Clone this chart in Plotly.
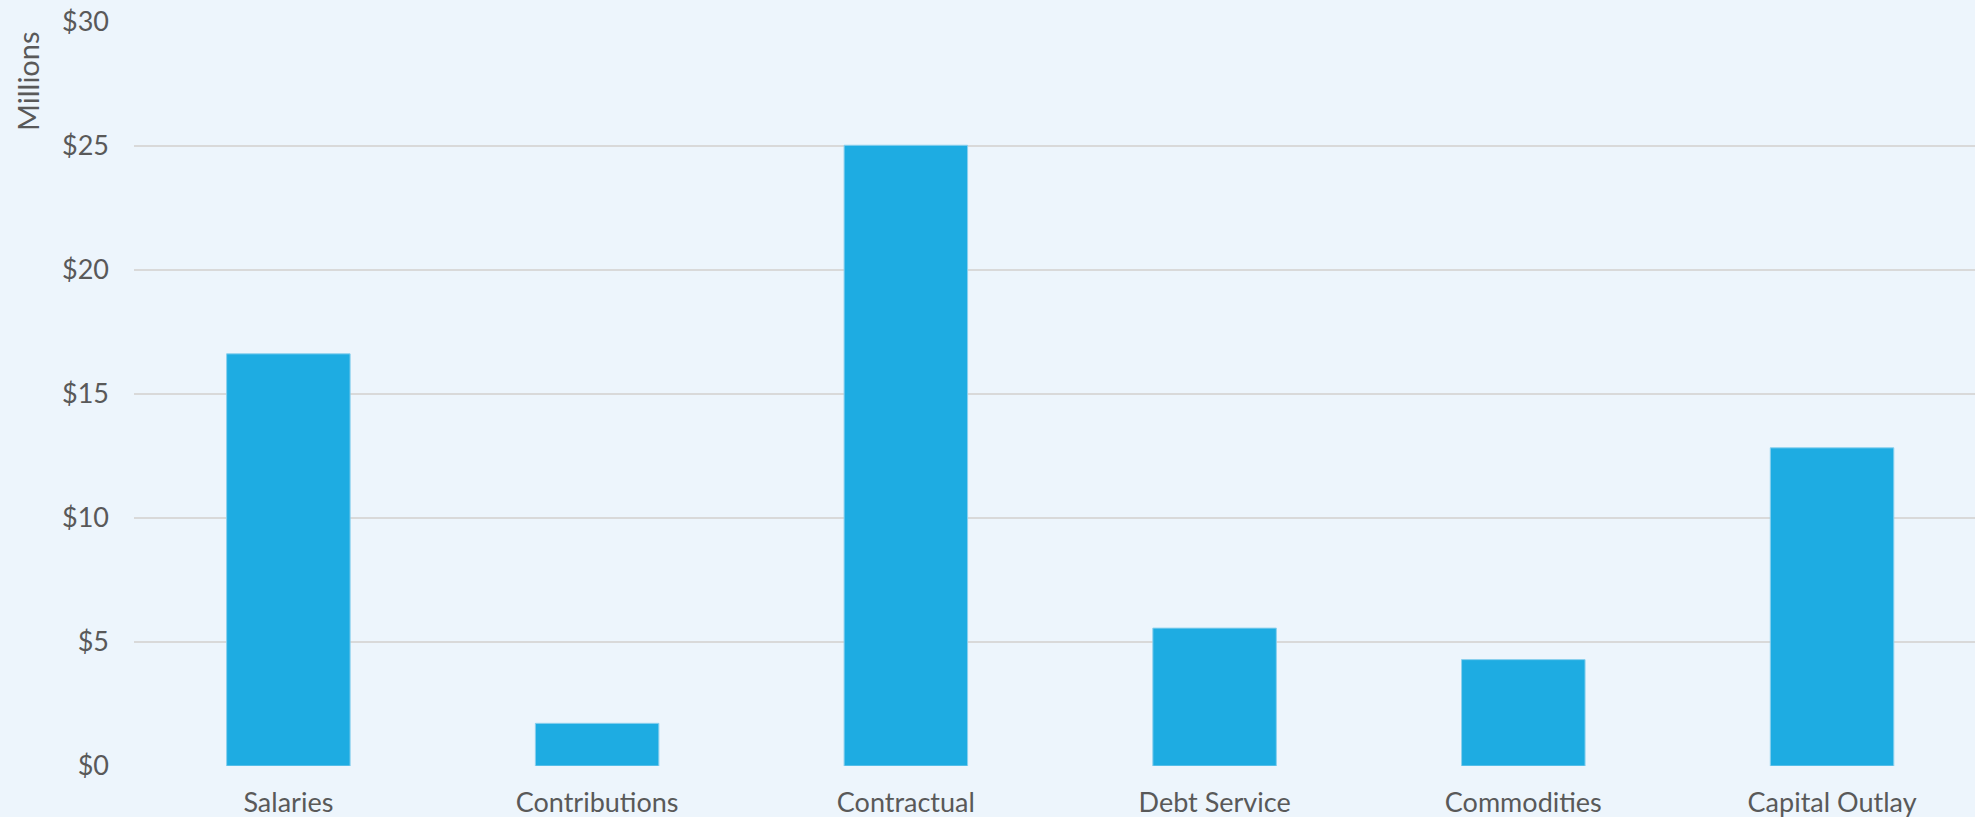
import plotly.graph_objects as go

categories = ["Salaries", "Contributions", "Contractual", "Debt Service", "Commodities", "Capital Outlay"]
values = [16.62, 1.72, 25.03, 5.56, 4.29, 12.83]
tick_vals = [0, 5, 10, 15, 20, 25, 30]
tick_text = ["$0", "$5", "$10", "$15", "$20", "$25", "$30"]

FONT = "Lato"
TXT = "#595959"
BG = "#EDF5FC"

fig = go.Figure()
fig.add_trace(go.Bar(
    x=categories, y=values,
    marker=dict(color="#1EACE2", line=dict(color="#8BD0EE", width=1)),
    width=0.4,
    hoverinfo="x+y",
))

fig.update_layout(
    width=1975, height=817,
    margin=dict(l=134, r=0, t=22, b=51),
    paper_bgcolor=BG, plot_bgcolor=BG,
    showlegend=False,
    font=dict(family=FONT, color=TXT, size=26),
    xaxis=dict(
        range=[-0.5, 5.463],
        showgrid=False, zeroline=False, showline=False,
        ticks="", tickfont=dict(size=27, color=TXT, family=FONT),
        ticklabelstandoff=18,
    ),
    yaxis=dict(
        range=[0, 30],
        tickvals=tick_vals, ticktext=tick_text,
        showgrid=True, gridcolor="#D9D9D9", gridwidth=2,
        zeroline=False, showline=False, ticks="",
        tickfont=dict(size=27, color=TXT, family=FONT),
        ticklabelstandoff=24,
    ),
    annotations=[dict(
        text="Millions", xref="paper", yref="paper",
        x=-0.0576, y=0.9207, xanchor="center", yanchor="middle",
        textangle=-90, showarrow=False,
        font=dict(size=29, color=TXT, family=FONT),
    )],
)

html = fig.to_html(include_plotlyjs=True, full_html=True, config={"displayModeBar": False})
html = html.replace("<body>", '<body style="margin:0;padding:0;overflow:hidden;">', 1)
with open("out.html", "w", encoding="utf-8") as f:
    f.write(html)
